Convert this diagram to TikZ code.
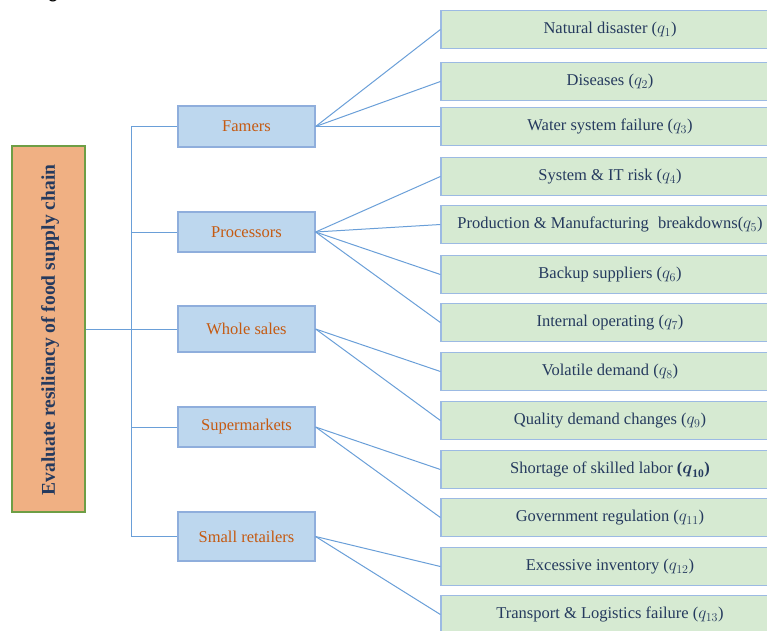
\documentclass[tikz,border=0pt]{standalone}
\usepackage{amsmath}
\usepackage{fontspec}
\setmainfont{Liberation Serif}
\newfontfamily\capfont{Carlito}
\definecolor{rootfill}{HTML}{F0B083}
\definecolor{rootdraw}{HTML}{6E9E45}
\definecolor{navy}{HTML}{253A5E}
\definecolor{midfill}{HTML}{BDD7EE}
\definecolor{middraw}{HTML}{8FAEDC}
\definecolor{midtext}{HTML}{C55A11}
\definecolor{leaffill}{HTML}{D6EAD2}
\definecolor{leafdraw}{HTML}{9CBAE3}
\definecolor{linecol}{HTML}{6A9FD8}
\tikzset{
  rootbox/.style={draw=rootdraw, line width=1.2pt, fill=rootfill, minimum width=73pt, minimum height=366pt, inner sep=0pt},
  roottext/.style={rotate=90, text=navy, font=\fontsize{19.5}{22}\selectfont\bfseries},
  midbox/.style={draw=middraw, line width=1.2pt, fill=midfill, minimum width=137pt, inner sep=0pt, text=midtext, font=\fontsize{16.5}{19}\selectfont},
  leafbox/.style={draw=leafdraw, line width=1.2pt, fill=leaffill, minimum width=338pt, minimum height=38.5pt, inner sep=0pt, text=navy, font=\fontsize{16.5}{19}\selectfont},
  conn/.style={draw=linecol, line width=1pt}
}
\begin{document}
\begin{tikzpicture}[x=1pt, y=-1pt]
\useasboundingbox (0,0) rectangle (767,630);
\clip (0,0) rectangle (767,630);
\node[anchor=base, font=\capfont\fontsize{20}{24}\selectfont] (cap) at (53,-1.5) {g};
% root
\node[rootbox] (root) at (48.5,329) {};
\node[roottext] (roottxt) at (50,330) {Evaluate resiliency of food supply chain};
% middle boxes
\node[midbox, minimum height=41pt] (farm) at (246.5,126.5) {Famers};
\node[midbox, minimum height=40pt] (proc) at (246.5,232) {Processors};
\node[midbox, minimum height=46pt] (whole) at (246.5,329) {Whole sales};
\node[midbox, minimum height=40pt] (super) at (246.5,427) {Supermarkets};
\node[midbox, minimum height=49pt] (small) at (246.5,536.5) {Small retailers};
% leaves
\node[leafbox] (q1) at (610,29.5) {Natural disaster ($q_{1}$)};
\node[leafbox] (q2) at (610,81.5) {Diseases ($q_{2}$)};
\node[leafbox] (q3) at (610,126.5) {Water system failure ($q_{3}$)};
\node[leafbox] (q4) at (610,176.5) {System \& IT risk ($q_{4}$)};
\node[leafbox] (q5) at (610,224.5) {Production \& Manufacturing\hspace{0.55em}breakdowns($q_{5}$)};
\node[leafbox] (q6) at (610,274.5) {Backup suppliers ($q_{6}$)};
\node[leafbox] (q7) at (610,322.5) {Internal operating ($q_{7}$)};
\node[leafbox] (q8) at (610,371.5) {Volatile demand ($q_{8}$)};
\node[leafbox] (q9) at (610,420.5) {Quality demand changes ($q_{9}$)};
\node[leafbox] (q10) at (610,469.5) {Shortage of skilled labor \textbf{(}$\boldsymbol{q}_{\mathbf{10}}$\textbf{)}};
\node[leafbox] (q11) at (610,517.5) {Government regulation ($q_{11}$)};
\node[leafbox] (q12) at (610,566.5) {Excessive inventory ($q_{12}$)};
\node[leafbox] (q13) at (610,614.5) {Transport \& Logistics failure ($q_{13}$)};
% trunk
\coordinate (tk) at (131,0);
\draw[conn] (root.east) -- (root.east -| tk);
\draw[conn] (farm.west -| tk) -- (small.west -| tk);
\foreach \m in {farm,proc,whole,super,small}
  \draw[conn] (\m.west -| tk) -- (\m.west);
% branches
\foreach \q in {q1,q2,q3} \draw[conn] (farm.east) -- (\q.west);
\foreach \q in {q4,q5,q6,q7} \draw[conn] (proc.east) -- (\q.west);
\foreach \q in {q8,q9} \draw[conn] (whole.east) -- (\q.west);
\foreach \q in {q10,q11} \draw[conn] (super.east) -- (\q.west);
\foreach \q in {q12,q13} \draw[conn] (small.east) -- (\q.west);
\end{tikzpicture}
\end{document}
